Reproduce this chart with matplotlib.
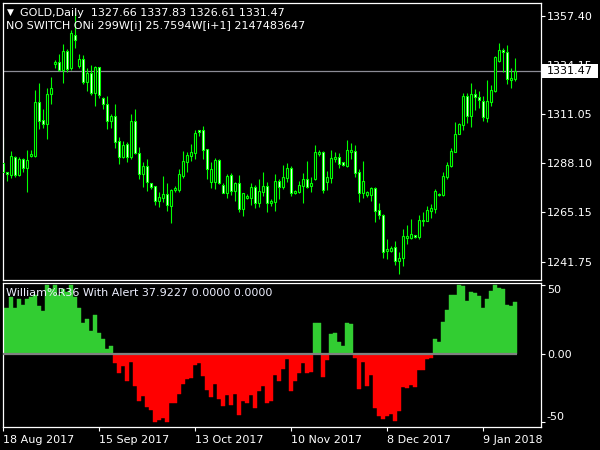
import matplotlib
matplotlib.use('Agg')
import matplotlib.pyplot as plt
import matplotlib.transforms as mtransforms
from matplotlib.patches import Rectangle
import numpy as np

plt.rcParams['font.family'] = ['DejaVu Sans']

# ---------------- data ----------------
opens = [1288.21, 1283.97, 1282.72, 1290.88, 1282.72, 1290.09, 1286.01, 1291.66, 1291.66, 1316.77,
         1308.29, 1306.72, 1320.69, 1334.97, 1335.59, 1332.14, 1340.93, 1332.77, 1348.46, 1334.03,
         1337.16, 1326.49, 1330.57, 1321.32, 1333.24, 1318.81, 1315.82, 1308.14, 1310.18, 1298.41,
         1291.03, 1297.31, 1291.03, 1307.98, 1292.92, 1282.88, 1286.80, 1278.80, 1277.23, 1270.48,
         1271.89, 1273.62, 1268.13, 1275.66, 1275.34, 1282.09, 1288.84, 1291.66, 1293.07, 1303.59,
         1303.59, 1294.64, 1279.42, 1279.42, 1289.62, 1277.85, 1274.25, 1282.56, 1275.19, 1278.80,
         1266.72, 1271.89, 1271.89, 1276.91, 1269.54, 1274.72, 1277.38, 1269.54, 1270.01, 1279.74,
         1277.07, 1281.31, 1285.86, 1274.25, 1274.40, 1277.54, 1280.68, 1277.54, 1280.84, 1292.45,
         1293.39, 1279.11, 1281.31, 1290.09, 1291.03, 1288.68, 1286.80, 1293.54, 1293.86, 1283.97,
         1274.25, 1273.30, 1273.30, 1276.44, 1266.09, 1263.58, 1246.95, 1246.95, 1248.67, 1242.08,
         1243.34, 1253.06, 1253.06, 1254.32, 1253.54, 1260.91, 1261.07, 1265.62, 1266.72, 1273.46,
         1273.15, 1281.78, 1286.96, 1293.54, 1302.02, 1306.25, 1319.75, 1310.49, 1320.69, 1319.28,
         1317.24, 1309.55, 1317.08, 1322.26, 1336.38, 1341.40, 1340.30, 1327.44, 1327.66]
highs = [1300.45, 1284.13, 1293.86, 1291.51, 1291.03, 1290.72, 1294.33, 1294.17, 1322.57, 1325.87,
         1313.63, 1323.36, 1328.69, 1336.69, 1339.52, 1344.22, 1341.87, 1350.81, 1359.29, 1339.52,
         1339.05, 1333.08, 1334.34, 1333.87, 1333.55, 1319.28, 1319.75, 1311.12, 1315.98, 1300.29,
         1298.41, 1297.94, 1311.27, 1313.63, 1295.74, 1288.68, 1290.09, 1278.80, 1277.23, 1274.40,
         1282.09, 1278.80, 1275.97, 1277.38, 1285.39, 1293.86, 1293.54, 1297.15, 1303.59, 1303.90,
         1305.63, 1294.96, 1288.68, 1290.56, 1290.09, 1278.80, 1283.03, 1283.50, 1279.42, 1282.56,
         1274.09, 1273.62, 1278.80, 1277.85, 1280.68, 1283.97, 1279.27, 1271.11, 1283.03, 1280.68,
         1287.27, 1288.21, 1286.96, 1275.66, 1279.89, 1283.50, 1289.15, 1281.62, 1296.68, 1294.49,
         1293.86, 1284.29, 1294.33, 1293.54, 1293.07, 1288.84, 1299.04, 1297.78, 1296.68, 1285.23,
         1289.15, 1275.19, 1277.07, 1276.91, 1269.54, 1264.20, 1252.44, 1249.14, 1251.50, 1246.32,
         1257.14, 1259.03, 1261.85, 1254.32, 1263.73, 1265.30, 1267.81, 1269.07, 1275.97, 1273.93,
         1283.97, 1288.84, 1295.27, 1307.51, 1307.20, 1321.00, 1321.00, 1325.71, 1323.04, 1322.10,
         1319.75, 1327.28, 1324.92, 1338.73, 1344.54, 1342.18, 1343.75, 1332.77, 1337.83]
lows = [1283.35, 1279.89, 1281.31, 1281.78, 1282.25, 1284.13, 1274.72, 1291.03, 1291.19, 1304.37,
        1304.84, 1299.66, 1315.98, 1333.08, 1331.51, 1326.02, 1331.20, 1332.14, 1342.50, 1332.77,
        1325.40, 1322.26, 1320.22, 1315.20, 1318.96, 1313.63, 1304.37, 1304.84, 1295.43, 1287.90,
        1290.41, 1288.84, 1290.09, 1292.29, 1280.68, 1277.07, 1275.19, 1275.97, 1268.44, 1267.50,
        1270.01, 1265.77, 1259.97, 1274.72, 1274.56, 1281.15, 1283.97, 1289.15, 1290.09, 1301.08,
        1290.09, 1280.68, 1276.44, 1275.97, 1278.17, 1273.93, 1271.89, 1273.15, 1270.48, 1265.30,
        1263.42, 1271.11, 1268.44, 1267.19, 1267.66, 1272.68, 1265.30, 1268.13, 1265.62, 1271.27,
        1275.82, 1279.11, 1272.68, 1273.62, 1274.09, 1269.54, 1276.29, 1274.56, 1280.37, 1291.35,
        1274.25, 1275.66, 1278.64, 1288.84, 1285.70, 1286.96, 1286.33, 1290.09, 1281.62, 1270.01,
        1271.74, 1272.05, 1270.32, 1260.60, 1261.85, 1243.65, 1243.18, 1246.47, 1240.20, 1236.12,
        1239.89, 1250.24, 1252.59, 1252.91, 1252.59, 1258.56, 1260.91, 1262.48, 1264.83, 1272.68,
        1272.68, 1280.68, 1286.48, 1293.23, 1301.70, 1303.59, 1306.88, 1305.31, 1313.00, 1313.94,
        1307.98, 1307.51, 1315.20, 1321.79, 1335.91, 1331.20, 1325.55, 1323.67, 1326.61]
closes = [1283.82, 1282.88, 1291.35, 1282.72, 1290.09, 1286.01, 1289.47, 1292.45, 1316.77, 1308.14,
          1306.72, 1320.53, 1323.36, 1335.91, 1332.14, 1340.77, 1332.46, 1349.40, 1345.95, 1337.16,
          1326.49, 1330.42, 1321.00, 1333.24, 1320.06, 1315.82, 1308.14, 1310.18, 1298.25, 1291.19,
          1296.68, 1291.19, 1307.98, 1292.76, 1282.88, 1286.80, 1279.42, 1277.07, 1270.48, 1272.21,
          1273.62, 1268.60, 1275.66, 1276.44, 1282.88, 1288.99, 1291.98, 1293.39, 1302.33, 1302.96,
          1294.49, 1285.54, 1285.23, 1289.62, 1278.95, 1274.25, 1282.09, 1275.19, 1278.80, 1266.72,
          1273.93, 1272.83, 1276.91, 1269.54, 1275.19, 1277.38, 1269.54, 1270.48, 1279.74, 1277.07,
          1281.46, 1285.70, 1273.93, 1275.19, 1277.85, 1280.68, 1277.07, 1278.80, 1293.54, 1293.54,
          1275.50, 1281.46, 1290.56, 1291.19, 1287.90, 1287.11, 1294.33, 1294.17, 1283.66, 1274.25,
          1279.74, 1274.56, 1276.60, 1265.77, 1263.58, 1246.47, 1247.89, 1248.20, 1242.08, 1243.65,
          1253.85, 1254.01, 1254.63, 1253.54, 1261.38, 1261.38, 1265.93, 1267.19, 1275.19, 1272.99,
          1282.09, 1287.27, 1293.86, 1301.86, 1306.57, 1319.90, 1310.49, 1320.53, 1319.43, 1317.71,
          1310.02, 1317.39, 1322.57, 1337.95, 1341.40, 1340.30, 1327.91, 1328.22, 1331.47]
wpr = [33.0, 33.0, 41.5, 33.0, 39.5, 35.4, 39.5, 41.5, 42.7, 34.7,
       31.3, 50.0, 46.8, 50.0, 42.7, 46.8, 45.1, 50.0, 41.5, 33.0,
       22.1, 25.0, 16.5, 28.1, 15.3, 10.4, 3.4, 5.6, -6.6, -13.8,
       -9.0, -19.7, -5.8, -23.5, -34.2, -30.8, -38.6, -41.0, -50.0, -48.3,
       -46.6, -49.5, -36.1, -35.7, -29.4, -22.1, -18.7, -18.0, -8.5, -7.0,
       -16.3, -26.4, -31.8, -22.1, -33.2, -38.1, -30.1, -37.4, -29.4, -44.6,
       -34.2, -36.1, -30.1, -39.8, -26.9, -23.5, -35.7, -34.2, -15.5, -19.7,
       -11.4, -4.1, -26.9, -19.7, -13.8, -6.6, -13.8, -13.1, 22.1, 22.1,
       -16.7, -4.6, 14.3, 14.8, 8.5, 5.6, 22.1, 21.6, -2.9, -25.5,
       -5.8, -23.5, -15.5, -39.3, -45.4, -47.3, -45.4, -43.9, -48.8, -41.7,
       -24.5, -25.0, -22.8, -24.0, -11.9, -11.9, -4.1, -2.9, 10.7, 8.5,
       23.0, 31.8, 42.7, 42.7, 50.0, 49.2, 38.3, 44.6, 43.9, 42.0,
       33.5, 39.8, 45.6, 50.0, 47.8, 47.1, 35.4, 34.7, 37.9227]

date_labels = ['18 Aug 2017', '15 Sep 2017', '13 Oct 2017', '10 Nov 2017', '8 Dec 2017', '9 Jan 2018']
date_bars = [0, 24, 48, 72, 96, 120]
price_ticks = [1357.40, 1334.15, 1311.05, 1288.10, 1265.15, 1241.75]
ind_ticks = [50, 0, -50]
ind_tick_labels = ['50', '0.00', '-50']
last_price = 1331.47
title1 = 'GOLD,Daily  1327.66 1337.83 1326.61 1331.47'
title2 = 'NO SWITCH ONi 299W[i] 25.7594W[i+1] 2147483647'
ind_title = 'William%R36 With Alert 37.9227 0.0000 0.0000'

# ---------------- figure ----------------
W, H = 600, 450
fig = plt.figure(figsize=(6, 4.5), dpi=100, facecolor='black')

def fx(px):
    return px / W

def fy(py):
    return 1 - py / H

L, R = 2.5, 540.5
ax = fig.add_axes([fx(L), fy(280), (R - L) / W, (280 - 2.5) / H])
ax2 = fig.add_axes([fx(L), fy(426.5), (R - L) / W, (426.5 - 283) / H])

idx = np.arange(len(closes))
o = np.array(opens); h = np.array(highs); l = np.array(lows); c = np.array(closes)

for a in (ax, ax2):
    a.set_facecolor('black')
    for s in a.spines.values():
        s.set_color('white')
        s.set_linewidth(0.9)
    a.set_xlim(-0.21, 134.3)
    a.yaxis.tick_right()
    a.tick_params(axis='y', colors='white', labelcolor='white', length=3, width=0.8,
                  pad=1.5, labelsize=8, left=False)

# main price chart
ax.set_ylim(1233.13, 1363.75)
ax.vlines(idx, l, h, color='#00ff00', linewidth=0.8, zorder=2)
bull = c >= o
body_bottom = np.minimum(o, c)
body_height = np.maximum(np.abs(c - o), 0.05)
ax.bar(idx[bull], body_height[bull], bottom=body_bottom[bull], width=0.5,
       color='black', edgecolor='#00ff00', linewidth=0.8, zorder=3)
ax.bar(idx[~bull], body_height[~bull], bottom=body_bottom[~bull], width=0.5,
       color='white', edgecolor='#00ff00', linewidth=0.8, zorder=3)
ax.axhline(last_price, color='#8c8c96', linewidth=0.9, zorder=1)
ax.set_yticks(price_ticks)
ax.set_yticklabels(['%.2f' % p for p in price_ticks])
ax.set_xticks([])

blend = mtransforms.blended_transform_factory(ax.transAxes, ax.transData)
ax.add_patch(Rectangle((1.0022, last_price - 3.15), 0.1052, 6.31, transform=blend,
                       facecolor='white', edgecolor='none', clip_on=False, zorder=6))
ax.text(1.0115, last_price, '%.2f' % last_price, transform=blend, color='black',
        fontsize=8, va='center', ha='left', clip_on=False, zorder=7)

# indicator
wv = np.array(wpr)
pos = np.where(wv > 0, wv, 0)
neg = np.where(wv < 0, wv, 0)
ax2.set_ylim(-52.98, 51.46)
ax2.bar(idx, pos, width=1.0, color='#32cd32', edgecolor='#32cd32', linewidth=0.3, zorder=2)
ax2.bar(idx, neg, width=1.0, color='#ff0000', edgecolor='#ff0000', linewidth=0.3, zorder=2)
ax2.hlines(0, -0.21, idx[-1] + 0.5, color='#808080', linewidth=1.6, zorder=3)
ax2.set_yticks(ind_ticks)
ax2.set_yticklabels(ind_tick_labels)
lbls = ax2.get_yticklabels()
lbls[0].set_va('top')
lbls[2].set_va('bottom')

ax2.set_xticks(date_bars)
ax2.set_xticklabels(date_labels)
ax2.tick_params(axis='x', colors='white', labelcolor='white', length=3, width=0.8,
                pad=3, labelsize=8)
for t in ax2.get_xticklabels():
    t.set_ha('left')

# texts
fig.text(fx(7), fy(12.5), '\u25bc', color='white', fontsize=6.5, va='center', ha='left')
fig.text(fx(20.5), fy(12.5), title1, color='white', fontsize=8, va='center', ha='left')
fig.text(fx(6.5), fy(25.5), title2, color='white', fontsize=8, va='center', ha='left')
fig.text(fx(6.5), fy(293.5), ind_title, color='#eef0ff', fontsize=8, va='center', ha='left', zorder=10)

fig.savefig('out.png', dpi=100, facecolor='black')
